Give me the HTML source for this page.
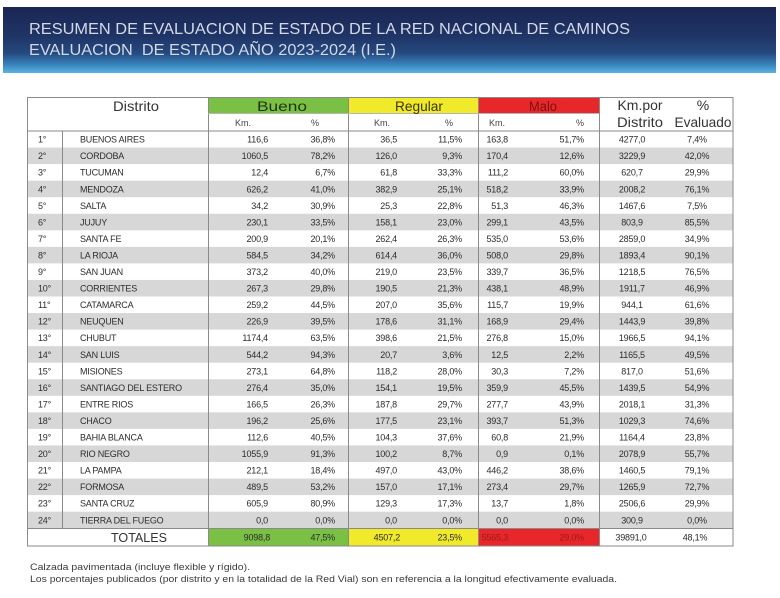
<!DOCTYPE html>
<html><head><meta charset="utf-8">
<style>
html,body{margin:0;padding:0;background:#fff;}
svg{display:block;}
text{font-family:"Liberation Sans",sans-serif;}
.d{font-size:9px;fill:#2c2c2c;letter-spacing:-0.2px;}
.h{font-size:14px;fill:#333;}
.s{font-size:9px;fill:#444;}
.f{font-size:9px;fill:#3a3a3a;}
</style></head>
<body>
<svg width="780" height="598" viewBox="0 0 780 598" xmlns="http://www.w3.org/2000/svg">
<defs>
<linearGradient id="bg" x1="0" y1="0" x2="0" y2="1">
<stop offset="0" stop-color="#1a2654"/>
<stop offset="0.45" stop-color="#1f3566"/>
<stop offset="0.7" stop-color="#25497f"/>
<stop offset="0.88" stop-color="#3a86bf"/>
<stop offset="1" stop-color="#5ab4e2"/>
</linearGradient>
</defs>
<rect x="3" y="7" width="773" height="66" fill="url(#bg)"/>
<text x="29" y="34" font-size="15.5" fill="#d3d9e6" textLength="601" lengthAdjust="spacingAndGlyphs">RESUMEN DE EVALUACION DE ESTADO DE LA RED NACIONAL DE CAMINOS</text>
<text x="29" y="55" font-size="15.5" fill="#d3d9e6" textLength="367" lengthAdjust="spacingAndGlyphs" xml:space="preserve">EVALUACION  DE ESTADO AÑO 2023-2024 (I.E.)</text>

<rect x="208" y="97" width="140" height="16" fill="#79c044"/>
<rect x="348" y="97" width="130" height="16" fill="#f1ea2a"/>
<rect x="478" y="97" width="121" height="16" fill="#e8272b"/>

<g fill="#d7d7d7">
<rect x="27" y="147.55" width="706" height="16.55"/>
<rect x="27" y="180.65" width="706" height="16.55"/>
<rect x="27" y="213.75" width="706" height="16.55"/>
<rect x="27" y="246.85" width="706" height="16.55"/>
<rect x="27" y="279.95" width="706" height="16.55"/>
<rect x="27" y="313.05" width="706" height="16.55"/>
<rect x="27" y="346.15" width="706" height="16.55"/>
<rect x="27" y="379.25" width="706" height="16.55"/>
<rect x="27" y="412.35" width="706" height="16.55"/>
<rect x="27" y="445.45" width="706" height="16.55"/>
<rect x="27" y="478.55" width="706" height="16.55"/>
<rect x="27" y="511.65" width="706" height="16.55"/>
</g>

<rect x="208" y="528.2" width="140" height="17.8" fill="#79c044"/>
<rect x="348" y="528.2" width="130" height="17.8" fill="#f1ea2a"/>
<rect x="478" y="528.2" width="121" height="17.8" fill="#e8272b"/>

<g stroke="#8a8a8a" stroke-width="1" fill="none">
<rect x="27.5" y="97.5" width="705.5" height="448.5"/>
<line x1="208.5" y1="97" x2="208.5" y2="546"/>
<line x1="348.5" y1="97" x2="348.5" y2="546"/>
<line x1="478.5" y1="97" x2="478.5" y2="546"/>
<line x1="599.5" y1="97" x2="599.5" y2="546"/>
<line x1="62.5" y1="131" x2="62.5" y2="528"/>
<line x1="208" y1="113.5" x2="599" y2="113.5" stroke="#b5b5b5"/>
<line x1="27" y1="131" x2="733" y2="131"/>
<line x1="27" y1="528.5" x2="733" y2="528.5"/>
</g>

<text class="h" x="136" y="111" text-anchor="middle" textLength="46" lengthAdjust="spacingAndGlyphs">Distrito</text>
<text x="282" y="111" font-size="14" fill="#1f3412" text-anchor="middle" textLength="50" lengthAdjust="spacingAndGlyphs">Bueno</text>
<text x="419" y="111" font-size="14" fill="#3a3508" text-anchor="middle" textLength="48" lengthAdjust="spacingAndGlyphs">Regular</text>
<text x="543" y="111" font-size="13.5" fill="#7a1212" text-anchor="middle" textLength="28" lengthAdjust="spacingAndGlyphs">Malo</text>
<text class="h" x="640" y="110" text-anchor="middle" textLength="45" lengthAdjust="spacingAndGlyphs">Km.por</text>
<text class="h" x="703" y="110" text-anchor="middle">%</text>
<text class="h" x="640" y="127" text-anchor="middle" textLength="46" lengthAdjust="spacingAndGlyphs">Distrito</text>
<text class="h" x="703" y="127" text-anchor="middle" textLength="57" lengthAdjust="spacingAndGlyphs">Evaluado</text>

<text class="s" x="243" y="126" text-anchor="middle">Km.</text>
<text class="s" x="315" y="126" text-anchor="middle">%</text>
<text class="s" x="382" y="126" text-anchor="middle">Km.</text>
<text class="s" x="449" y="126" text-anchor="middle">%</text>
<text class="s" x="497" y="126" text-anchor="middle">Km.</text>
<text class="s" x="580" y="126" text-anchor="middle">%</text>

<g class="d">
<g transform="translate(0,142.6)">
<text x="38">1°</text><text x="80">BUENOS AIRES</text>
<text x="268" text-anchor="end">116,6</text><text x="335" text-anchor="end">36,8%</text>
<text x="397" text-anchor="end">36,5</text><text x="462" text-anchor="end">11,5%</text>
<text x="508" text-anchor="end">163,8</text><text x="584" text-anchor="end">51,7%</text>
<text x="632" text-anchor="middle">4277,0</text><text x="697" text-anchor="middle">7,4%</text>
</g>
<g transform="translate(0,159.15)">
<text x="38">2°</text><text x="80">CORDOBA</text>
<text x="268" text-anchor="end">1060,5</text><text x="335" text-anchor="end">78,2%</text>
<text x="397" text-anchor="end">126,0</text><text x="462" text-anchor="end">9,3%</text>
<text x="508" text-anchor="end">170,4</text><text x="584" text-anchor="end">12,6%</text>
<text x="632" text-anchor="middle">3229,9</text><text x="697" text-anchor="middle">42,0%</text>
</g>
<g transform="translate(0,175.7)">
<text x="38">3°</text><text x="80">TUCUMAN</text>
<text x="268" text-anchor="end">12,4</text><text x="335" text-anchor="end">6,7%</text>
<text x="397" text-anchor="end">61,8</text><text x="462" text-anchor="end">33,3%</text>
<text x="508" text-anchor="end">111,2</text><text x="584" text-anchor="end">60,0%</text>
<text x="632" text-anchor="middle">620,7</text><text x="697" text-anchor="middle">29,9%</text>
</g>
<g transform="translate(0,192.25)">
<text x="38">4°</text><text x="80">MENDOZA</text>
<text x="268" text-anchor="end">626,2</text><text x="335" text-anchor="end">41,0%</text>
<text x="397" text-anchor="end">382,9</text><text x="462" text-anchor="end">25,1%</text>
<text x="508" text-anchor="end">518,2</text><text x="584" text-anchor="end">33,9%</text>
<text x="632" text-anchor="middle">2008,2</text><text x="697" text-anchor="middle">76,1%</text>
</g>
<g transform="translate(0,208.8)">
<text x="38">5°</text><text x="80">SALTA</text>
<text x="268" text-anchor="end">34,2</text><text x="335" text-anchor="end">30,9%</text>
<text x="397" text-anchor="end">25,3</text><text x="462" text-anchor="end">22,8%</text>
<text x="508" text-anchor="end">51,3</text><text x="584" text-anchor="end">46,3%</text>
<text x="632" text-anchor="middle">1467,6</text><text x="697" text-anchor="middle">7,5%</text>
</g>
<g transform="translate(0,225.35)">
<text x="38">6°</text><text x="80">JUJUY</text>
<text x="268" text-anchor="end">230,1</text><text x="335" text-anchor="end">33,5%</text>
<text x="397" text-anchor="end">158,1</text><text x="462" text-anchor="end">23,0%</text>
<text x="508" text-anchor="end">299,1</text><text x="584" text-anchor="end">43,5%</text>
<text x="632" text-anchor="middle">803,9</text><text x="697" text-anchor="middle">85,5%</text>
</g>
<g transform="translate(0,241.9)">
<text x="38">7°</text><text x="80">SANTA FE</text>
<text x="268" text-anchor="end">200,9</text><text x="335" text-anchor="end">20,1%</text>
<text x="397" text-anchor="end">262,4</text><text x="462" text-anchor="end">26,3%</text>
<text x="508" text-anchor="end">535,0</text><text x="584" text-anchor="end">53,6%</text>
<text x="632" text-anchor="middle">2859,0</text><text x="697" text-anchor="middle">34,9%</text>
</g>
<g transform="translate(0,258.45)">
<text x="38">8°</text><text x="80">LA RIOJA</text>
<text x="268" text-anchor="end">584,5</text><text x="335" text-anchor="end">34,2%</text>
<text x="397" text-anchor="end">614,4</text><text x="462" text-anchor="end">36,0%</text>
<text x="508" text-anchor="end">508,0</text><text x="584" text-anchor="end">29,8%</text>
<text x="632" text-anchor="middle">1893,4</text><text x="697" text-anchor="middle">90,1%</text>
</g>
<g transform="translate(0,275)">
<text x="38">9°</text><text x="80">SAN JUAN</text>
<text x="268" text-anchor="end">373,2</text><text x="335" text-anchor="end">40,0%</text>
<text x="397" text-anchor="end">219,0</text><text x="462" text-anchor="end">23,5%</text>
<text x="508" text-anchor="end">339,7</text><text x="584" text-anchor="end">36,5%</text>
<text x="632" text-anchor="middle">1218,5</text><text x="697" text-anchor="middle">76,5%</text>
</g>
<g transform="translate(0,291.55)">
<text x="38">10°</text><text x="80">CORRIENTES</text>
<text x="268" text-anchor="end">267,3</text><text x="335" text-anchor="end">29,8%</text>
<text x="397" text-anchor="end">190,5</text><text x="462" text-anchor="end">21,3%</text>
<text x="508" text-anchor="end">438,1</text><text x="584" text-anchor="end">48,9%</text>
<text x="632" text-anchor="middle">1911,7</text><text x="697" text-anchor="middle">46,9%</text>
</g>
<g transform="translate(0,308.1)">
<text x="38">11°</text><text x="80">CATAMARCA</text>
<text x="268" text-anchor="end">259,2</text><text x="335" text-anchor="end">44,5%</text>
<text x="397" text-anchor="end">207,0</text><text x="462" text-anchor="end">35,6%</text>
<text x="508" text-anchor="end">115,7</text><text x="584" text-anchor="end">19,9%</text>
<text x="632" text-anchor="middle">944,1</text><text x="697" text-anchor="middle">61,6%</text>
</g>
<g transform="translate(0,324.65)">
<text x="38">12°</text><text x="80">NEUQUEN</text>
<text x="268" text-anchor="end">226,9</text><text x="335" text-anchor="end">39,5%</text>
<text x="397" text-anchor="end">178,6</text><text x="462" text-anchor="end">31,1%</text>
<text x="508" text-anchor="end">168,9</text><text x="584" text-anchor="end">29,4%</text>
<text x="632" text-anchor="middle">1443,9</text><text x="697" text-anchor="middle">39,8%</text>
</g>
<g transform="translate(0,341.2)">
<text x="38">13°</text><text x="80">CHUBUT</text>
<text x="268" text-anchor="end">1174,4</text><text x="335" text-anchor="end">63,5%</text>
<text x="397" text-anchor="end">398,6</text><text x="462" text-anchor="end">21,5%</text>
<text x="508" text-anchor="end">276,8</text><text x="584" text-anchor="end">15,0%</text>
<text x="632" text-anchor="middle">1966,5</text><text x="697" text-anchor="middle">94,1%</text>
</g>
<g transform="translate(0,357.75)">
<text x="38">14°</text><text x="80">SAN LUIS</text>
<text x="268" text-anchor="end">544,2</text><text x="335" text-anchor="end">94,3%</text>
<text x="397" text-anchor="end">20,7</text><text x="462" text-anchor="end">3,6%</text>
<text x="508" text-anchor="end">12,5</text><text x="584" text-anchor="end">2,2%</text>
<text x="632" text-anchor="middle">1165,5</text><text x="697" text-anchor="middle">49,5%</text>
</g>
<g transform="translate(0,374.3)">
<text x="38">15°</text><text x="80">MISIONES</text>
<text x="268" text-anchor="end">273,1</text><text x="335" text-anchor="end">64,8%</text>
<text x="397" text-anchor="end">118,2</text><text x="462" text-anchor="end">28,0%</text>
<text x="508" text-anchor="end">30,3</text><text x="584" text-anchor="end">7,2%</text>
<text x="632" text-anchor="middle">817,0</text><text x="697" text-anchor="middle">51,6%</text>
</g>
<g transform="translate(0,390.85)">
<text x="38">16°</text><text x="80">SANTIAGO DEL ESTERO</text>
<text x="268" text-anchor="end">276,4</text><text x="335" text-anchor="end">35,0%</text>
<text x="397" text-anchor="end">154,1</text><text x="462" text-anchor="end">19,5%</text>
<text x="508" text-anchor="end">359,9</text><text x="584" text-anchor="end">45,5%</text>
<text x="632" text-anchor="middle">1439,5</text><text x="697" text-anchor="middle">54,9%</text>
</g>
<g transform="translate(0,407.4)">
<text x="38">17°</text><text x="80">ENTRE RIOS</text>
<text x="268" text-anchor="end">166,5</text><text x="335" text-anchor="end">26,3%</text>
<text x="397" text-anchor="end">187,8</text><text x="462" text-anchor="end">29,7%</text>
<text x="508" text-anchor="end">277,7</text><text x="584" text-anchor="end">43,9%</text>
<text x="632" text-anchor="middle">2018,1</text><text x="697" text-anchor="middle">31,3%</text>
</g>
<g transform="translate(0,423.95)">
<text x="38">18°</text><text x="80">CHACO</text>
<text x="268" text-anchor="end">196,2</text><text x="335" text-anchor="end">25,6%</text>
<text x="397" text-anchor="end">177,5</text><text x="462" text-anchor="end">23,1%</text>
<text x="508" text-anchor="end">393,7</text><text x="584" text-anchor="end">51,3%</text>
<text x="632" text-anchor="middle">1029,3</text><text x="697" text-anchor="middle">74,6%</text>
</g>
<g transform="translate(0,440.5)">
<text x="38">19°</text><text x="80">BAHIA BLANCA</text>
<text x="268" text-anchor="end">112,6</text><text x="335" text-anchor="end">40,5%</text>
<text x="397" text-anchor="end">104,3</text><text x="462" text-anchor="end">37,6%</text>
<text x="508" text-anchor="end">60,8</text><text x="584" text-anchor="end">21,9%</text>
<text x="632" text-anchor="middle">1164,4</text><text x="697" text-anchor="middle">23,8%</text>
</g>
<g transform="translate(0,457.05)">
<text x="38">20°</text><text x="80">RIO NEGRO</text>
<text x="268" text-anchor="end">1055,9</text><text x="335" text-anchor="end">91,3%</text>
<text x="397" text-anchor="end">100,2</text><text x="462" text-anchor="end">8,7%</text>
<text x="508" text-anchor="end">0,9</text><text x="584" text-anchor="end">0,1%</text>
<text x="632" text-anchor="middle">2078,9</text><text x="697" text-anchor="middle">55,7%</text>
</g>
<g transform="translate(0,473.6)">
<text x="38">21°</text><text x="80">LA PAMPA</text>
<text x="268" text-anchor="end">212,1</text><text x="335" text-anchor="end">18,4%</text>
<text x="397" text-anchor="end">497,0</text><text x="462" text-anchor="end">43,0%</text>
<text x="508" text-anchor="end">446,2</text><text x="584" text-anchor="end">38,6%</text>
<text x="632" text-anchor="middle">1460,5</text><text x="697" text-anchor="middle">79,1%</text>
</g>
<g transform="translate(0,490.15)">
<text x="38">22°</text><text x="80">FORMOSA</text>
<text x="268" text-anchor="end">489,5</text><text x="335" text-anchor="end">53,2%</text>
<text x="397" text-anchor="end">157,0</text><text x="462" text-anchor="end">17,1%</text>
<text x="508" text-anchor="end">273,4</text><text x="584" text-anchor="end">29,7%</text>
<text x="632" text-anchor="middle">1265,9</text><text x="697" text-anchor="middle">72,7%</text>
</g>
<g transform="translate(0,506.7)">
<text x="38">23°</text><text x="80">SANTA CRUZ</text>
<text x="268" text-anchor="end">605,9</text><text x="335" text-anchor="end">80,9%</text>
<text x="397" text-anchor="end">129,3</text><text x="462" text-anchor="end">17,3%</text>
<text x="508" text-anchor="end">13,7</text><text x="584" text-anchor="end">1,8%</text>
<text x="632" text-anchor="middle">2506,6</text><text x="697" text-anchor="middle">29,9%</text>
</g>
<g transform="translate(0,523.25)">
<text x="38">24°</text><text x="80">TIERRA DEL FUEGO</text>
<text x="268" text-anchor="end">0,0</text><text x="335" text-anchor="end">0,0%</text>
<text x="397" text-anchor="end">0,0</text><text x="462" text-anchor="end">0,0%</text>
<text x="508" text-anchor="end">0,0</text><text x="584" text-anchor="end">0,0%</text>
<text x="632" text-anchor="middle">300,9</text><text x="697" text-anchor="middle">0,0%</text>
</g>
</g>

<text x="139" y="542" font-size="13" fill="#333" text-anchor="middle" textLength="56" lengthAdjust="spacingAndGlyphs">TOTALES</text>
<g class="d" transform="translate(0,540.5)">
<text x="270" text-anchor="end">9098,8</text><text x="335" text-anchor="end">47,5%</text>
<text x="400" text-anchor="end">4507,2</text><text x="462" text-anchor="end">23,5%</text>
<text x="508" text-anchor="end" style="fill:#9a1a1a">5565,3</text><text x="584" text-anchor="end" style="fill:#9a1a1a">29,0%</text>
<text x="631" text-anchor="middle">39891,0</text><text x="695" text-anchor="middle">48,1%</text>
</g>

<text class="f" x="30" y="570" textLength="220" lengthAdjust="spacingAndGlyphs">Calzada pavimentada (incluye flexible y rígido).</text>
<text class="f" x="30" y="582" textLength="587" lengthAdjust="spacingAndGlyphs">Los porcentajes publicados (por distrito y en la totalidad de la Red Vial) son en referencia a la longitud efectivamente evaluada.</text>
</svg>
</body></html>
